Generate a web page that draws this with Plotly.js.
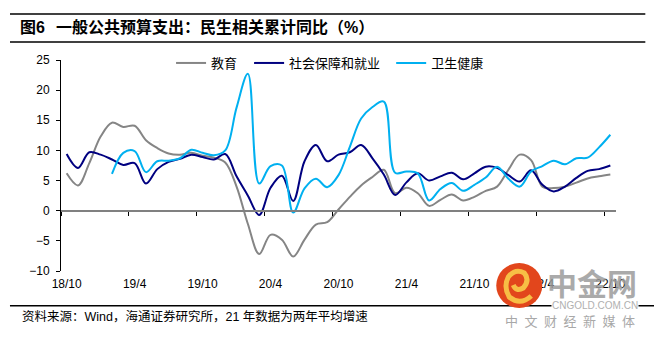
<!DOCTYPE html>
<html>
<head>
<meta charset="utf-8">
<script src="https://cdn.plot.ly/plotly-3.0.1.min.js"></script>
<style>html,body{margin:0;padding:0;background:#fff}#chart{width:654px;height:337px}</style>
</head>
<body>
<div id="chart"></div>
<script>
// ---- data ----
const months = ['18/10','18/11','18/12','19/1','19/2','19/3','19/4','19/5','19/6','19/7','19/8','19/9',
  '19/10','19/11','19/12','20/1','20/2','20/3','20/4','20/5','20/6','20/7','20/8','20/9',
  '20/10','20/11','20/12','21/1','21/2','21/3','21/4','21/5','21/6','21/7','21/8','21/9',
  '21/10','21/11','21/12','22/1','22/2','22/3','22/4','22/5','22/6','22/7','22/8','22/9','22/10'];
const education = [6.2,4.2,7.9,12.3,14.6,13.9,14.1,11.7,10.4,9.5,9.3,9.6,
  9.1,8.8,8.0,4.0,-2.2,-7.2,-4.0,-4.8,-7.6,-4.8,-2.3,-1.9,
  0.2,2.3,4.2,5.6,6.8,2.9,3.8,2.9,0.8,1.8,2.7,1.7,
  2.3,3.3,4.0,6.8,9.3,8.4,4.0,3.75,4.0,4.65,5.35,5.7,6.0];
const socialSecurity = [9.4,7.1,9.7,9.3,8.5,7.6,7.9,4.5,6.9,8.1,8.6,9.3,
  8.9,8.5,9.4,5.7,2.5,-0.7,3.8,5.8,1.6,8.2,10.9,8.2,
  9.3,9.7,10.9,8.7,6.0,2.6,4.7,6.2,5.0,5.7,6.3,5.2,
  6.2,7.3,7.1,5.9,4.85,6.7,4.3,3.2,4.0,5.45,6.6,6.9,7.5];
const health = [null,null,null,null,6.1,9.6,9.9,6.4,8.2,8.3,8.7,10.1,
  9.6,9.2,10.0,17.1,22.7,4.5,7.4,7.5,-0.3,3.7,5.3,3.9,
  5.9,10.6,15.3,17.2,18.1,6.3,6.5,6.2,1.7,3.6,4.6,3.3,
  4.3,5.5,7.3,5.3,4.0,6.5,7.4,8.3,7.7,8.7,8.8,10.5,12.6];
const seriesNames = ['教育','社会保障和就业','卫生健康'];
const titleText = '图6\u2002\u2009一般公共预算支出：民生相关累计同比（%）';
const sourceText = '资料来源：Wind，海通证券研究所，21 年数据为两年平均增速';
const yMin = -10, yMax = 25, yStep = 5, tickEvery = 6;

// ---- layout helpers ----
const W = 654, H = 337;
const M = {l: 61, r: 38.3, t: 60, b: 66};
const plotW = W - M.l - M.r, plotH = H - M.t - M.b;
const fx = px => (px - M.l) / plotW;
const fy = py => (H - M.b - py) / plotH;
const P = (px, py) => fx(px).toFixed(5) + ',' + fy(py).toFixed(5);

const idx = months.map((m, i) => i);
const tickIdx = idx.filter(i => i % tickEvery === 0);
const xr = [-0.5, months.length - 0.5];
const CJK = 'Liberation Sans, Arial, Noto Sans CJK SC, sans-serif';

const spline = {shape: 'spline', smoothing: 1, width: 2};
const traces = [
  {x: idx, y: education, name: seriesNames[0], type: 'scatter', mode: 'lines', legend: 'legend',
   line: Object.assign({color: '#858585'}, spline)},
  {x: idx, y: socialSecurity, name: seriesNames[1], type: 'scatter', mode: 'lines', legend: 'legend2',
   line: Object.assign({color: '#000080'}, spline)},
  {x: idx, y: health, name: seriesNames[2], type: 'scatter', mode: 'lines', xaxis: 'x2', legend: 'legend3',
   connectgaps: false, line: Object.assign({color: '#00B0F0'}, spline)}
];

const legendBase = x => ({orientation: 'h', x: fx(x), xanchor: 'left', y: fy(63), yanchor: 'middle',
  font: {family: 'Noto Sans CJK SC, sans-serif', size: 13, color: '#000'},
  bgcolor: 'rgba(0,0,0,0)', itemwidth: 30});

const layout = {
  width: W, height: H, margin: M,
  paper_bgcolor: '#fff', plot_bgcolor: '#fff',
  font: {family: CJK, size: 12, color: '#000'},
  hovermode: false,
  title: {text: titleText, x: 20 / W, xref: 'container', xanchor: 'left',
          y: 1 - 27 / H, yref: 'container', yanchor: 'middle',
          font: {family: CJK, size: 16, weight: 'bold', color: '#000'}},
  showlegend: true,
  legend: legendBase(171),
  legend2: legendBase(249),
  legend3: legendBase(391),
  xaxis: {range: xr, tickvals: tickIdx, ticktext: tickIdx.map(i => months[i]),
          showgrid: false, zeroline: false, showline: false, ticks: '',
          tickfont: {family: 'Liberation Sans, Arial, sans-serif', size: 12, color: '#000'},
          ticklabelstandoff: 4},
  xaxis2: {overlaying: 'x', anchor: 'free', position: (0 - yMin) / (yMax - yMin), range: xr,
           showgrid: false, zeroline: false, showline: true, linecolor: '#808080', linewidth: 2,
           ticks: 'outside', ticklen: 4, tickwidth: 1, tickcolor: '#000',
           tickvals: tickIdx.map(i => i - 0.5), showticklabels: false},
  yaxis: {range: [yMin, yMax], dtick: yStep, tick0: 0, showgrid: false, zeroline: false,
          showline: true, linecolor: '#000', linewidth: 1, ticks: 'outside', ticklen: 4,
          tickcolor: '#000', tickfont: {family: 'Liberation Sans, Arial, sans-serif', size: 12, color: '#000'},
          ticklabelstandoff: 4},
  shapes: [
    {type: 'line', xref: 'paper', yref: 'paper', x0: fx(10), x1: fx(645), y0: fy(14), y1: fy(14), line: {color: '#000', width: 1.5}},
    {type: 'line', xref: 'paper', yref: 'paper', x0: fx(10), x1: fx(645), y0: fy(42), y1: fy(42), line: {color: '#000', width: 1.5}},
    {type: 'line', xref: 'paper', yref: 'paper', x0: fx(10), x1: fx(654), y0: fy(305.7), y1: fy(305.7), line: {color: '#000', width: 1.5}},
    // watermark logo
    {type: 'circle', xref: 'paper', yref: 'paper', layer: 'above', x0: fx(496), x1: fx(542), y0: fy(308), y1: fy(263),
     fillcolor: '#E2461C', line: {width: 0}},
    {type: 'path', xref: 'paper', yref: 'paper', layer: 'above',
     path: 'M' + P(531, 296) + ' Q' + P(520, 306) + ' ' + P(509, 297) + ' Q' + P(503, 287) + ' ' + P(508, 277) +
           ' Q' + P(515, 268) + ' ' + P(524, 273) + ' Q' + P(530, 280) + ' ' + P(523, 288) +
           ' Q' + P(516, 292) + ' ' + P(513, 285),
     line: {color: '#F7BE45', width: 5}}
  ],
  annotations: [
    {text: sourceText, xref: 'paper', yref: 'paper', x: fx(20), y: fy(316), xanchor: 'left', yanchor: 'middle',
     showarrow: false, font: {family: CJK, size: 12.5, color: '#000'}},
    {text: '中金网', xref: 'paper', yref: 'paper', x: fx(591.5), y: fy(281.5), xanchor: 'center', yanchor: 'middle',
     showarrow: false, opacity: 0.85, font: {family: 'Noto Sans CJK SC, sans-serif', size: 30, weight: 'bold', color: '#9c9c9c'}},
    {text: 'CNGOLD.COM.CN', xref: 'paper', yref: 'paper', x: fx(594.5), y: fy(305.5), xanchor: 'center', yanchor: 'middle',
     showarrow: false, bgcolor: '#fff', borderpad: 0, font: {family: 'Liberation Sans, Arial, sans-serif', size: 10, color: '#b0b0b0'}},
    {text: '中\u2002文\u2002财\u2002经\u2002新\u2002媒\u2002体', xref: 'paper', yref: 'paper', x: fx(569.5), y: fy(320),
     xanchor: 'center', yanchor: 'middle', showarrow: false,
     font: {family: 'Noto Sans CJK SC, sans-serif', size: 13, color: '#a8a8a8'}}
  ]
};

Plotly.newPlot('chart', traces, layout, {staticPlot: true, displayModeBar: false});
</script>
</body>
</html>
